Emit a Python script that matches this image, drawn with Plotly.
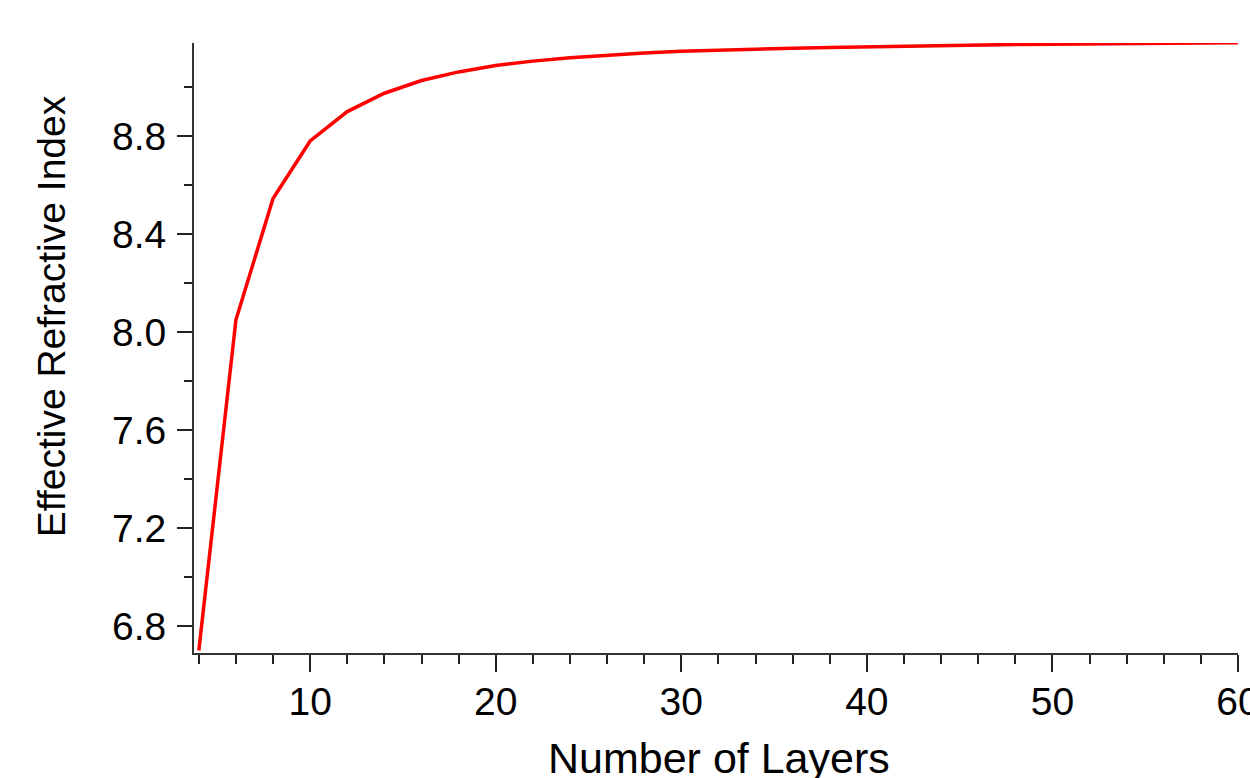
import plotly.graph_objects as go

layers = [4, 6, 8, 10, 12, 14, 16, 18, 20, 22, 24, 26, 28, 30, 32, 34, 36, 38, 40,
          42, 44, 46, 48, 50, 52, 54, 56, 58, 60]
n_eff = [6.70, 8.05, 8.545, 8.78, 8.90, 8.975, 9.027, 9.062, 9.088, 9.106, 9.12,
         9.131, 9.139, 9.146, 9.151, 9.155, 9.159, 9.162, 9.165, 9.168, 9.170,
         9.172, 9.174, 9.175, 9.177, 9.178, 9.179, 9.180, 9.181]

x_title = "Number of Layers"
y_title = "Effective Refractive Index"

fig = go.Figure(go.Scatter(x=layers, y=n_eff, mode="lines",
                           line=dict(color="#ff0000", width=3.5), showlegend=False))

font_family = "Liberation Sans, Arial, sans-serif"
fig.update_layout(
    width=1250, height=778,
    margin=dict(l=194, r=12, t=43, b=125),
    plot_bgcolor="white", paper_bgcolor="white",
    font=dict(family=font_family, color="black"),
    annotations=[
        dict(text=x_title, xref="paper", yref="paper", x=0.5, y=0,
             xanchor="center", yanchor="middle", xshift=3, yshift=-105,
             showarrow=False, font=dict(size=43)),
        dict(text=y_title, xref="paper", yref="paper", x=0, y=0.552,
             xanchor="center", yanchor="middle", xshift=-143, textangle=-90,
             showarrow=False, font=dict(size=39)),
    ],
)
fig.update_xaxes(
    range=[3.74, 60.0001], tickmode="linear", tick0=0, dtick=10,
    ticks="outside", ticklen=17, tickwidth=2, tickcolor="#222",
    minor=dict(tick0=0, dtick=2, ticks="outside", ticklen=9, tickwidth=1.5, tickcolor="#222"),
    showline=True, linecolor="#333", linewidth=2, showgrid=False, zeroline=False,
    tickfont=dict(size=39), automargin=False, ticklabeloverflow="allow",
    ticklabelstandoff=-4,
)
fig.update_yaxes(
    range=[6.69, 9.18], tickmode="linear", tick0=6.8, dtick=0.4, tickformat=".1f",
    ticks="outside", ticklen=15, tickwidth=2, tickcolor="#222",
    minor=dict(tick0=6.8, dtick=0.2, ticks="outside", ticklen=8, tickwidth=1.5, tickcolor="#222"),
    showline=True, linecolor="#333", linewidth=2, showgrid=False, zeroline=False,
    tickfont=dict(size=39), automargin=False, ticklabeloverflow="allow",
    ticklabelstandoff=3,
)

# remove the default page margin so the 1250x778 figure fills the window exactly
fig.write_html("out.html", config={"displayModeBar": False},
               post_script="document.body.style.margin='0px';")
